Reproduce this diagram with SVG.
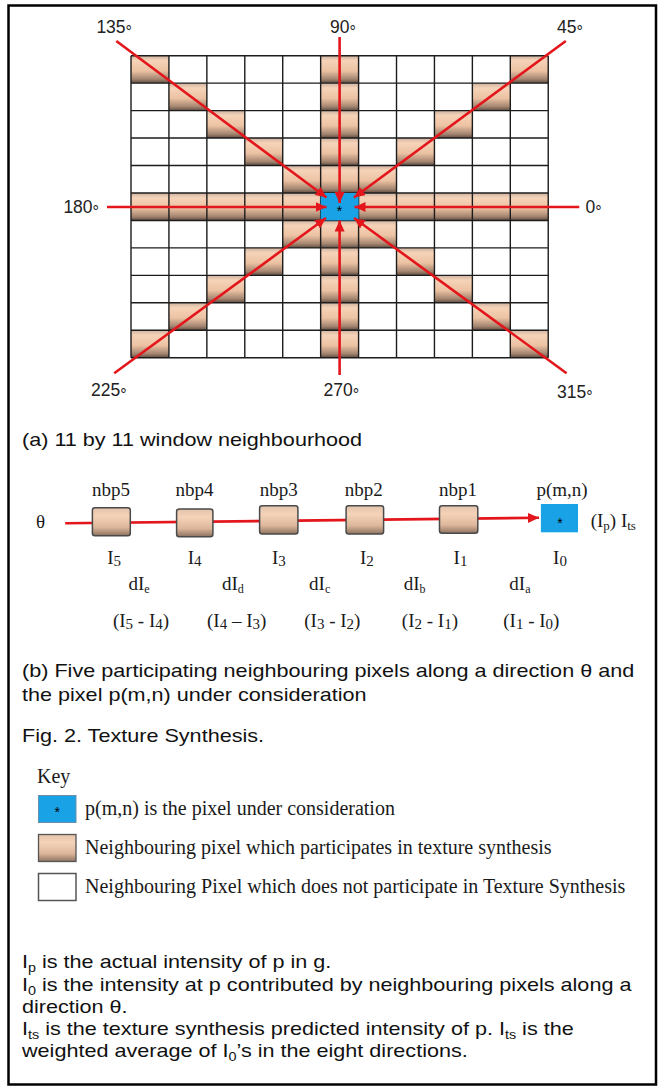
<svg xmlns="http://www.w3.org/2000/svg" xmlns:xlink="http://www.w3.org/1999/xlink" width="663" height="1087" viewBox="0 0 663 1087">
<defs>
<style>
.lbl{font-family:"Liberation Sans Narrow","Liberation Sans",Arial,sans-serif;font-size:17.5px;fill:#222}
.deg{font-size:16px}
.ser{font-family:"Liberation Serif","Times New Roman",serif;font-size:19px;fill:#1a1a1a}
.key{font-family:"Liberation Serif","Times New Roman",serif;font-size:20px;fill:#1a1a1a}
.cap{font-family:"Liberation Sans",Arial,sans-serif;font-size:18px;fill:#111}
.ast{font-family:"Liberation Sans",Arial,sans-serif;font-size:14px;fill:#000}
.ray{stroke:#e3161c;stroke-width:2.6;fill:none;marker-end:url(#ah)}
.grid{stroke:#1c1c1c;stroke-width:1.4;fill:none}
.blue{fill:#1aa2e6}
</style>
<linearGradient id="pg" x1="0" y1="0" x2="0" y2="1">
<stop offset="0" stop-color="#cdb3a2"/>
<stop offset="0.18" stop-color="#f6d3b8"/>
<stop offset="0.55" stop-color="#ecc2a3"/>
<stop offset="0.85" stop-color="#a58671"/>
<stop offset="1" stop-color="#5f4d42"/>
</linearGradient>
<linearGradient id="pb" x1="0" y1="0" x2="0" y2="1">
<stop offset="0" stop-color="#e2c3ad"/>
<stop offset="0.3" stop-color="#f5d3b8"/>
<stop offset="0.7" stop-color="#ddb79c"/>
<stop offset="1" stop-color="#8e7360"/>
</linearGradient>
<marker id="ah" markerUnits="userSpaceOnUse" markerWidth="12" markerHeight="10" refX="11" refY="5" orient="auto">
<path d="M0,0 L11,5 L0,10 z" fill="#e3161c"/>
</marker>
<rect id="pc" width="37.93" height="27.46" fill="url(#pg)"/>
</defs>

<rect x="0" y="0" width="663" height="1087" fill="#fff"/>
<rect x="8.5" y="5.5" width="647.5" height="1079" fill="none" stroke="#000" stroke-width="2.5"/>

<g id="grid-window">
<rect x="131" y="55.7" width="417.23" height="302.01" fill="#fff"/>
<use xlink:href="#pc" x="131" y="55.7"/><use xlink:href="#pc" x="320.65" y="55.7"/><use xlink:href="#pc" x="510.3" y="55.7"/>
<use xlink:href="#pc" x="168.93" y="83.16"/><use xlink:href="#pc" x="320.65" y="83.16"/><use xlink:href="#pc" x="472.37" y="83.16"/>
<use xlink:href="#pc" x="206.86" y="110.61"/><use xlink:href="#pc" x="320.65" y="110.61"/><use xlink:href="#pc" x="434.44" y="110.61"/>
<use xlink:href="#pc" x="244.79" y="138.07"/><use xlink:href="#pc" x="320.65" y="138.07"/><use xlink:href="#pc" x="396.51" y="138.07"/>
<use xlink:href="#pc" x="282.72" y="165.52"/><use xlink:href="#pc" x="320.65" y="165.52"/><use xlink:href="#pc" x="358.58" y="165.52"/>
<use xlink:href="#pc" x="131" y="192.98"/><use xlink:href="#pc" x="168.93" y="192.98"/><use xlink:href="#pc" x="206.86" y="192.98"/><use xlink:href="#pc" x="244.79" y="192.98"/><use xlink:href="#pc" x="282.72" y="192.98"/>
<use xlink:href="#pc" x="358.58" y="192.98"/><use xlink:href="#pc" x="396.51" y="192.98"/><use xlink:href="#pc" x="434.44" y="192.98"/><use xlink:href="#pc" x="472.37" y="192.98"/><use xlink:href="#pc" x="510.3" y="192.98"/>
<use xlink:href="#pc" x="282.72" y="220.43"/><use xlink:href="#pc" x="320.65" y="220.43"/><use xlink:href="#pc" x="358.58" y="220.43"/>
<use xlink:href="#pc" x="244.79" y="247.89"/><use xlink:href="#pc" x="320.65" y="247.89"/><use xlink:href="#pc" x="396.51" y="247.89"/>
<use xlink:href="#pc" x="206.86" y="275.34"/><use xlink:href="#pc" x="320.65" y="275.34"/><use xlink:href="#pc" x="434.44" y="275.34"/>
<use xlink:href="#pc" x="168.93" y="302.8"/><use xlink:href="#pc" x="320.65" y="302.8"/><use xlink:href="#pc" x="472.37" y="302.8"/>
<use xlink:href="#pc" x="131" y="330.25"/><use xlink:href="#pc" x="320.65" y="330.25"/><use xlink:href="#pc" x="510.3" y="330.25"/>
<path class="grid" d="M131,55.7V357.71M168.93,55.7V357.71M206.86,55.7V357.71M244.79,55.7V357.71M282.72,55.7V357.71M320.65,55.7V357.71M358.58,55.7V357.71M396.51,55.7V357.71M434.44,55.7V357.71M472.37,55.7V357.71M510.3,55.7V357.71M548.23,55.7V357.71M131,55.7H548.23M131,83.16H548.23M131,110.61H548.23M131,138.07H548.23M131,165.52H548.23M131,192.98H548.23M131,220.43H548.23M131,247.89H548.23M131,275.34H548.23M131,302.8H548.23M131,330.25H548.23M131,357.71H548.23"/>
</g>

<g id="center-pixel">
<rect class="blue" x="320.65" y="192.98" width="37.93" height="27.45"/>
</g>

<g id="connectors">
<path class="ray" d="M116.3,41 L326.5,197.5"/>
<path class="ray" d="M339.6,37 L339.6,203"/>
<path class="ray" d="M565.8,41 L354,197.5"/>
<path class="ray" d="M107,207 L326.5,207"/>
<path class="ray" d="M579.3,207 L354.5,207"/>
<path class="ray" d="M114.2,373.3 L326,218"/>
<path class="ray" d="M339.6,375 L339.6,220.5"/>
<path class="ray" d="M566.6,373.3 L354,218"/>
<path class="ray" d="M65.2,523.3 L539,517.8"/>
</g>

<text class="ast" x="339.6" y="216" text-anchor="middle">*</text>

<g id="angle-labels">
<text class="lbl" x="96.4" y="33">135<tspan class="deg" dy="4">°</tspan></text>
<text class="lbl" x="330" y="33">90<tspan class="deg" dy="4">°</tspan></text>
<text class="lbl" x="557" y="33">45<tspan class="deg" dy="4">°</tspan></text>
<text class="lbl" x="63.4" y="213">180<tspan class="deg" dy="4">°</tspan></text>
<text class="lbl" x="585.6" y="213">0<tspan class="deg" dy="4">°</tspan></text>
<text class="lbl" x="91" y="395.5">225<tspan class="deg" dy="4">°</tspan></text>
<text class="lbl" x="323.5" y="395.5">270<tspan class="deg" dy="4">°</tspan></text>
<text class="lbl" x="557" y="398">315<tspan class="deg" dy="4">°</tspan></text>
</g>

<text class="cap" transform="translate(22 446) scale(1.2 1)">(a) 11 by 11 window neighbourhood</text>

<g id="nbp5"><rect x="92.4" y="507.7" width="37.9" height="28" rx="2.5" fill="url(#pb)" stroke="#4a4a4a" stroke-width="1.5"/></g>
<g id="nbp4"><rect x="176.6" y="509" width="36.3" height="27.7" rx="2.5" fill="url(#pb)" stroke="#4a4a4a" stroke-width="1.5"/></g>
<g id="nbp3"><rect x="259.6" y="505.7" width="38.3" height="28.3" rx="2.5" fill="url(#pb)" stroke="#4a4a4a" stroke-width="1.5"/></g>
<g id="nbp2"><rect x="346.1" y="505.7" width="37.5" height="28.3" rx="2.5" fill="url(#pb)" stroke="#4a4a4a" stroke-width="1.5"/></g>
<g id="nbp1"><rect x="439.5" y="505.7" width="38.3" height="27.6" rx="2.5" fill="url(#pb)" stroke="#4a4a4a" stroke-width="1.5"/></g>
<g id="pmn"><rect class="blue" x="540.9" y="504" width="37.1" height="28.3"/>
<text class="ast" x="560" y="528" text-anchor="middle">*</text></g>

<g id="b-labels">
<text class="ser" x="36" y="528">θ</text>
<text class="ser" x="111.1" y="496" text-anchor="middle">nbp5</text>
<text class="ser" x="194.6" y="496" text-anchor="middle">nbp4</text>
<text class="ser" x="278.8" y="496" text-anchor="middle">nbp3</text>
<text class="ser" x="363.7" y="496" text-anchor="middle">nbp2</text>
<text class="ser" x="457.9" y="496" text-anchor="middle">nbp1</text>
<text class="ser" x="562" y="496" text-anchor="middle">p(m,n)</text>
<text class="ser" x="590.7" y="527">(I<tspan font-size="13" dy="3">p</tspan><tspan dy="-3">) I</tspan><tspan font-size="13" dy="3">ts</tspan></text>
<text class="ser" x="114.2" y="564" text-anchor="middle">I<tspan font-size="15" dy="2">5</tspan></text>
<text class="ser" x="194.6" y="564" text-anchor="middle">I<tspan font-size="15" dy="2">4</tspan></text>
<text class="ser" x="278.8" y="564" text-anchor="middle">I<tspan font-size="15" dy="2">3</tspan></text>
<text class="ser" x="366.8" y="564" text-anchor="middle">I<tspan font-size="15" dy="2">2</tspan></text>
<text class="ser" x="460.5" y="564" text-anchor="middle">I<tspan font-size="15" dy="2">1</tspan></text>
<text class="ser" x="560" y="564" text-anchor="middle">I<tspan font-size="15" dy="2">0</tspan></text>
<text class="ser" x="139" y="590" text-anchor="middle">dI<tspan font-size="12" dy="3">e</tspan></text>
<text class="ser" x="232.8" y="590" text-anchor="middle">dI<tspan font-size="12" dy="3">d</tspan></text>
<text class="ser" x="319.7" y="590" text-anchor="middle">dI<tspan font-size="12" dy="3">c</tspan></text>
<text class="ser" x="414.6" y="590" text-anchor="middle">dI<tspan font-size="12" dy="3">b</tspan></text>
<text class="ser" x="519.9" y="590" text-anchor="middle">dI<tspan font-size="12" dy="3">a</tspan></text>
<text class="ser" x="141" y="627" text-anchor="middle">(I<tspan font-size="15" dy="2">5</tspan><tspan dy="-2"> - I</tspan><tspan font-size="15" dy="2">4</tspan><tspan dy="-2">)</tspan></text>
<text class="ser" x="236.7" y="627" text-anchor="middle">(I<tspan font-size="15" dy="2">4</tspan><tspan dy="-2"> – I</tspan><tspan font-size="15" dy="2">3</tspan><tspan dy="-2">)</tspan></text>
<text class="ser" x="332.3" y="627" text-anchor="middle">(I<tspan font-size="15" dy="2">3</tspan><tspan dy="-2"> - I</tspan><tspan font-size="15" dy="2">2</tspan><tspan dy="-2">)</tspan></text>
<text class="ser" x="429.9" y="627" text-anchor="middle">(I<tspan font-size="15" dy="2">2</tspan><tspan dy="-2"> - I</tspan><tspan font-size="15" dy="2">1</tspan><tspan dy="-2">)</tspan></text>
<text class="ser" x="531.3" y="627" text-anchor="middle">(I<tspan font-size="15" dy="2">1</tspan><tspan dy="-2"> - I</tspan><tspan font-size="15" dy="2">0</tspan><tspan dy="-2">)</tspan></text>
</g>

<g id="captions">
<text class="cap" transform="translate(22 677) scale(1.2 1)">(b) Five participating neighbouring pixels along a direction θ and</text>
<text class="cap" transform="translate(22 701) scale(1.2 1)">the pixel p(m,n) under consideration</text>
<text class="cap" transform="translate(22 742) scale(1.2 1)">Fig. 2. Texture Synthesis.</text>
</g>

<g id="key">
<text class="key" x="37" y="783">Key</text>
<rect class="blue" x="38.5" y="795.5" width="37.5" height="27" stroke="#6a8fa8" stroke-width="1"/>
<text class="ast" x="57.25" y="817" text-anchor="middle">*</text>
<text class="key" x="85" y="815">p(m,n) is the pixel under consideration</text>
<rect x="38.5" y="834.5" width="37.5" height="27" fill="url(#pb)" stroke="#555" stroke-width="1.3"/>
<text class="key" x="85" y="854">Neighbouring pixel which participates in texture synthesis</text>
<rect x="38.5" y="873.5" width="37.5" height="27" fill="#fff" stroke="#555" stroke-width="1.5"/>
<text class="key" x="85" y="893">Neighbouring Pixel which does not participate in Texture Synthesis</text>
</g>

<g id="notes">
<text class="cap" transform="translate(22 968) scale(1.2 1)">I<tspan font-size="12" dy="4">p</tspan><tspan dy="-4"> is the actual intensity of p in g.</tspan></text>
<text class="cap" transform="translate(22 990.5) scale(1.2 1)">I<tspan font-size="12" dy="4">0</tspan><tspan dy="-4"> is the intensity at p contributed by neighbouring pixels along a</tspan></text>
<text class="cap" transform="translate(22 1012.5) scale(1.2 1)">direction θ.</text>
<text class="cap" transform="translate(22 1035) scale(1.2 1)">I<tspan font-size="12" dy="4">ts</tspan><tspan dy="-4"> is the texture synthesis predicted intensity of p. I</tspan><tspan font-size="12" dy="4">ts</tspan><tspan dy="-4"> is the</tspan></text>
<text class="cap" transform="translate(22 1057) scale(1.2 1)">weighted average of I<tspan font-size="12" dy="4">0</tspan><tspan dy="-4">’s in the eight directions.</tspan></text>
</g>
</svg>
